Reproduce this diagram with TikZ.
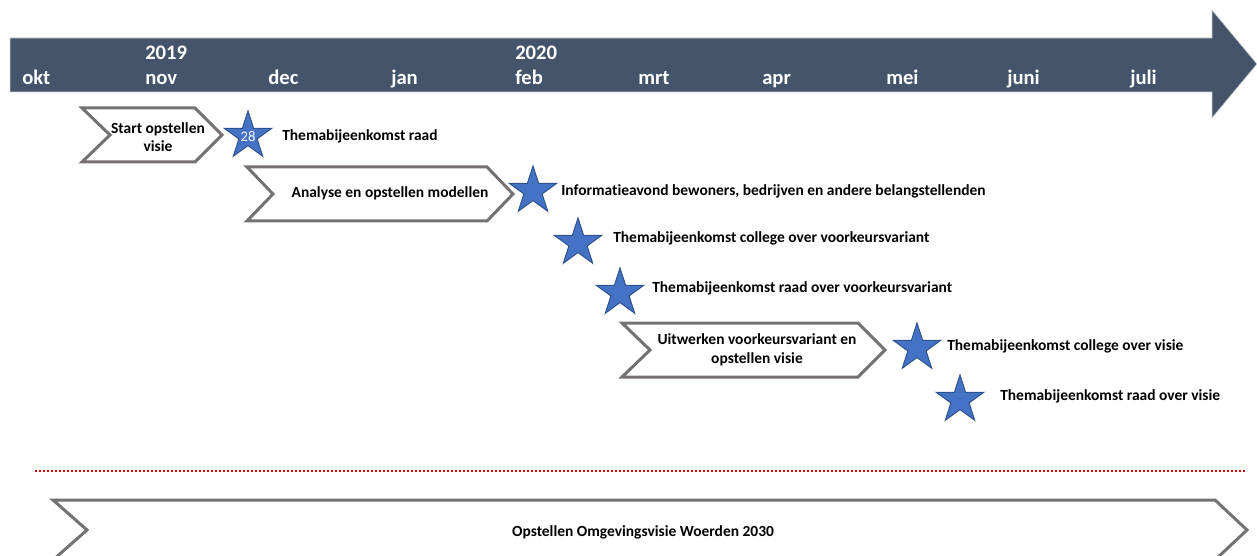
\documentclass[tikz,border=0pt]{standalone}
\usepackage{fontspec}
\setmainfont[Ligatures=NoCommon]{Carlito}
\usetikzlibrary{shapes.geometric}

\begin{document}
\begin{tikzpicture}[
  x=0.75pt, y=-0.75pt,
  % --- styles ---
  month/.style={anchor=base west, text=white, inner sep=0pt,
                font=\fontsize{15.5}{18}\selectfont\bfseries},
  chev/.style={draw=chevGray, line width=2.25pt, fill=white,
               line join=miter},
  ctext/.style={align=center, inner sep=0pt,
                font=\fontsize{11.6}{14}\selectfont\bfseries},
  mstar/.style={star, star points=5, star point ratio=2.618,
                minimum size=37.5pt, inner sep=0pt,
                fill=starBlue, draw=starEdge, line width=0.75pt},
  evt/.style={anchor=west, inner sep=0pt,
              font=\fontsize{11.6}{13}\selectfont\bfseries},
]
  % --- colours ---
  \definecolor{arrowBlue}{HTML}{44546A}
  \definecolor{chevGray}{HTML}{767171}
  \definecolor{starBlue}{HTML}{4472C4}
  \definecolor{starEdge}{HTML}{2F528F}
  \definecolor{lineRed}{HTML}{D00000}

  \useasboundingbox (0,0) rectangle (1257,556);
  \clip (0,0) rectangle (1257,556);

  % --- time axis arrow ---
  \fill[arrowBlue, draw=gray!35, line width=0.5pt]
    (10,38) -- (1212,38) -- (1212,10) -- (1257,64)
    -- (1212,118) -- (1212,92) -- (10,92) -- cycle;

  % --- years and months ---
  \node[month] (y2019) at (145,60) {2019};
  \node[month] (y2020) at (515,60) {2020};
  \node[month] (okt)  at (22,85)   {okt};
  \node[month] (nov)  at (145,85)  {nov};
  \node[month] (dec)  at (268,85)  {dec};
  \node[month] (jan)  at (391,85)  {jan};
  \node[month] (feb)  at (515,85)  {feb};
  \node[month] (mrt)  at (638,85)  {mrt};
  \node[month] (apr)  at (762,85)  {apr};
  \node[month] (mei)  at (886,85)  {mei};
  \node[month] (juni) at (1007,85) {juni};
  \node[month] (juli) at (1130,85) {juli};

  % --- phases (chevrons) ---
  \draw[chev] (82,108) -- (195,108) -- (222,135) -- (195,162)
    -- (82,162) -- (110,135) -- cycle;
  \node[ctext] (start) at (158,137) {Start opstellen\\visie};

  \draw[chev] (247,167) -- (487,167) -- (513,194) -- (487,221)
    -- (247,221) -- (273,194) -- cycle;
  \node[ctext] (analyse) at (390,193) {Analyse en opstellen modellen};

  \draw[chev] (622,323) -- (858,323) -- (885,350) -- (858,377)
    -- (622,377) -- (650,350) -- cycle;
  \node[ctext] (uitwerken) at (757,350)
    {Uitwerken voorkeursvariant en\\opstellen visie};

  % --- milestones (stars) ---
  \node[mstar] (s1) at (248,136) {};
  \node[text=white, inner sep=0pt, font=\fontsize{11}{13}\selectfont]
    (d28) at (248,137) {28};
  \node[mstar] (s2) at (533,191) {};
  \node[mstar] (s3) at (578,243) {};
  \node[mstar] (s4) at (620,293) {};
  \node[mstar] (s5) at (917,348) {};
  \node[mstar] (s6) at (960,400) {};

  % --- milestone labels ---
  \node[evt] (e1) at (282,136) {Themabijeenkomst raad};
  \node[evt] (e2) at (561,191)
    {Informatieavond bewoners, bedrijven en andere belangstellenden};
  \node[evt] (e3) at (613,238)
    {Themabijeenkomst college over voorkeursvariant};
  \node[evt] (e4) at (652,288)
    {Themabijeenkomst raad over voorkeursvariant};
  \node[evt] (e5) at (947,346) {Themabijeenkomst college over visie};
  \node[evt] (e6) at (1000,396) {Themabijeenkomst raad over visie};

  % --- separator ---
  \coordinate (sepL) at (35,471);
  \coordinate (sepR) at (1246,471);
  \draw[lineRed, line width=1.5pt, dash pattern=on 1.5pt off 1.5pt]
    (sepL) -- (sepR);

  % --- overall process ---
  \draw[chev] (53,500) -- (1215,500) -- (1247,530) -- (1215,560)
    -- (53,560) -- (87,530) -- cycle;
  \node[ctext] (omgevingsvisie) at (643,532)
    {Opstellen Omgevingsvisie Woerden 2030};
\end{tikzpicture}
\end{document}
